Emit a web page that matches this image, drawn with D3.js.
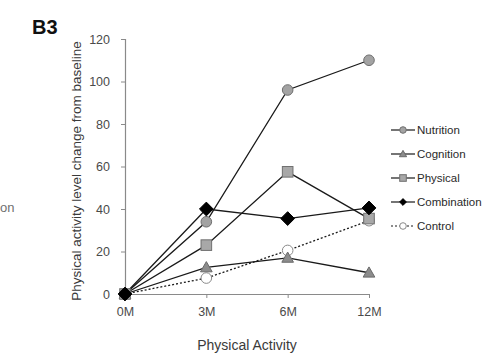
<!DOCTYPE html>
<html>
<head>
<meta charset="utf-8">
<script src="https://cdn.jsdelivr.net/npm/d3@7"></script>
<style>
  html, body { margin: 0; padding: 0; background: #fff; }
  svg { display: block; font-family: "Liberation Sans", Arial, sans-serif; }
</style>
</head>
<body>
<svg id="chart" width="500" height="354"></svg>
<script>
// Time points and group changes in physical activity level
const timepoints = ["0M", "3M", "6M", "12M"];
const yTicks = [0, 20, 40, 60, 80, 100, 120];
const nutrition   = [0, 34, 96, 110];
const cognition   = [0, 12.5, 17, 10];
const physical    = [0, 23, 57.5, 35.5];
const combination = [0, 40, 35.5, 40.5];
const control     = [0, 7.5, 20.5, 34.5];

const series = [
  { name: "Nutrition",   values: nutrition,   marker: "circle",   fill: "#a3a3a3", stroke: "#6f6f6f", dash: null },
  { name: "Cognition",   values: cognition,   marker: "triangle", fill: "#8c8c8c", stroke: "#6a6a6a", dash: null },
  { name: "Physical",    values: physical,    marker: "square",   fill: "#a8a8a8", stroke: "#707070", dash: null },
  { name: "Combination", values: combination, marker: "diamond",  fill: "#000000", stroke: "#000000", dash: null },
  { name: "Control",     values: control,     marker: "circle",   fill: "#ffffff", stroke: "#8a8a8a", dash: "2,2" }
];

const svg = d3.select("#chart");

const x = d3.scalePoint().domain(timepoints).range([125, 369]);
const y = d3.scaleLinear().domain([0, 120]).range([294, 39]);

// Y axis
const yAxis = svg.append("g")
  .attr("transform", "translate(125,0)")
  .call(d3.axisLeft(y).tickValues(yTicks).tickSize(4).tickPadding(11));
yAxis.select(".domain").attr("stroke", "#8a8a8a").attr("stroke-width", 1.2);
yAxis.selectAll(".tick line").attr("stroke", "#8a8a8a");
yAxis.selectAll(".tick text").attr("fill", "#4a4a4a").style("font-size", "12.5px");

// X axis
const xAxis = svg.append("g")
  .attr("transform", "translate(0,294)")
  .call(d3.axisBottom(x).tickSize(4).tickSizeOuter(0).tickPadding(9));
xAxis.select(".domain").attr("stroke", "#8a8a8a").attr("stroke-width", 1.2);
xAxis.selectAll(".tick line").attr("stroke", "#8a8a8a");
xAxis.selectAll(".tick text").attr("fill", "#4a4a4a").style("font-size", "12.5px");

// Axis titles
svg.append("text")
  .attr("transform", "translate(81,171) rotate(-90)")
  .attr("text-anchor", "middle")
  .attr("fill", "#3a3a3a")
  .style("font-size", "13.5px")
  .text("Physical activity level change from baseline");

svg.append("text")
  .attr("x", 247).attr("y", 350)
  .attr("text-anchor", "middle")
  .attr("fill", "#3a3a3a")
  .style("font-size", "14px")
  .text("Physical Activity");

// Panel label
svg.append("text")
  .attr("x", 32).attr("y", 34)
  .attr("fill", "#111")
  .style("font-size", "20px")
  .style("font-weight", "bold")
  .text("B3");

// Tail of the neighbouring panel's legend entry
svg.append("text")
  .attr("x", 0).attr("y", 212)
  .attr("fill", "#707070")
  .style("font-size", "13px")
  .text("on");

const line = d3.line()
  .x((d, i) => x(timepoints[i]))
  .y(d => y(d));

function drawMarker(g, type, cx, cy, s, fill, stroke) {
  if (type === "circle") {
    g.append("circle").attr("cx", cx).attr("cy", cy).attr("r", s)
      .attr("fill", fill).attr("stroke", stroke).attr("stroke-width", 1);
  } else if (type === "square") {
    g.append("rect").attr("x", cx - s).attr("y", cy - s).attr("width", 2 * s).attr("height", 2 * s)
      .attr("fill", fill).attr("stroke", stroke).attr("stroke-width", 1);
  } else if (type === "triangle") {
    const h = s * 1.1;
    g.append("path")
      .attr("d", `M${cx},${cy - h}L${cx + h},${cy + h * 0.75}L${cx - h},${cy + h * 0.75}Z`)
      .attr("fill", fill).attr("stroke", stroke).attr("stroke-width", 1);
  } else if (type === "diamond") {
    const h = s * 1.3;
    g.append("path")
      .attr("d", `M${cx},${cy - h}L${cx + h},${cy}L${cx},${cy + h}L${cx - h},${cy}Z`)
      .attr("fill", fill).attr("stroke", stroke).attr("stroke-width", 1);
  }
}

// Drawing order: control at the bottom, combination on top
const order = [4, 1, 2, 0, 3];
order.forEach(idx => {
  const s = series[idx];
  svg.append("path")
    .datum(s.values)
    .attr("d", line)
    .attr("fill", "none")
    .attr("stroke", "#1a1a1a")
    .attr("stroke-width", 1.3)
    .attr("stroke-dasharray", s.dash);
});
order.forEach(idx => {
  const s = series[idx];
  const g = svg.append("g");
  s.values.forEach((v, i) => {
    drawMarker(g, s.marker, x(timepoints[i]), y(v), 5.3, s.fill, s.stroke);
  });
});

// Legend
const legend = svg.append("g");
series.forEach((s, i) => {
  const ly = 130 + i * 24;
  const g = legend.append("g");
  g.append("line")
    .attr("x1", 391).attr("x2", 415).attr("y1", ly).attr("y2", ly)
    .attr("stroke", "#1a1a1a").attr("stroke-width", 1.2)
    .attr("stroke-dasharray", s.dash);
  drawMarker(g, s.marker, 403, ly, s.marker === "diamond" ? 2.6 : 3.3, s.fill, s.stroke);
  g.append("text")
    .attr("x", 417).attr("y", ly + 4)
    .attr("fill", "#2a2a2a")
    .style("font-size", "11.5px")
    .text(s.name);
});
</script>
</body>
</html>
